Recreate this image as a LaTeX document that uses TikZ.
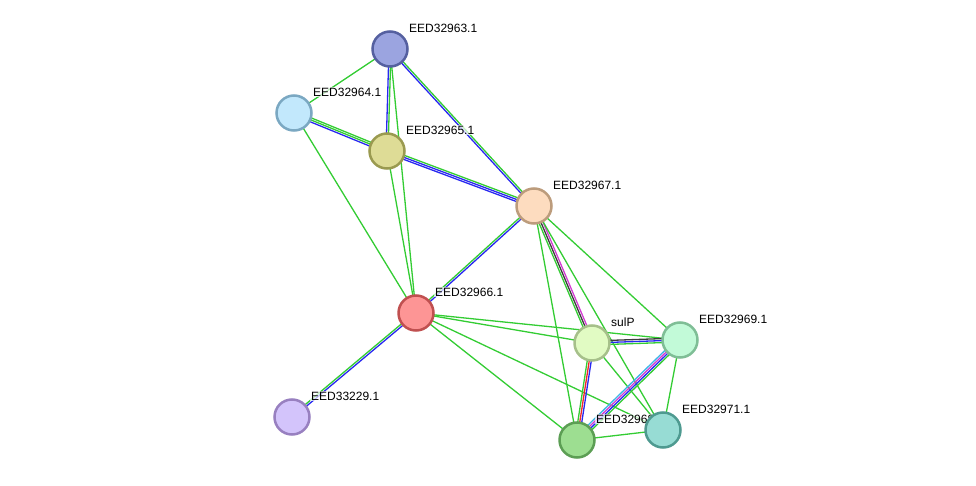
\documentclass[tikz,border=0pt]{standalone}
\usepackage{fontspec}
\setmainfont{Liberation Sans}
\usetikzlibrary{calc}
\definecolor{eg}{RGB}{51,204,51}
\definecolor{eb}{RGB}{40,40,240}
\definecolor{em}{RGB}{210,60,210}
\definecolor{ek}{RGB}{60,60,60}
\definecolor{er}{RGB}{240,40,40}
\definecolor{ec}{RGB}{60,180,230}
\definecolor{f63}{RGB}{155,164,224}\definecolor{d63}{RGB}{85,96,160}
\definecolor{f64}{RGB}{194,232,252}\definecolor{d64}{RGB}{123,168,194}
\definecolor{f65}{RGB}{222,220,150}\definecolor{d65}{RGB}{154,154,80}
\definecolor{f67}{RGB}{253,220,191}\definecolor{d67}{RGB}{188,156,124}
\definecolor{f66}{RGB}{253,149,149}\definecolor{d66}{RGB}{192,80,80}
\definecolor{f29}{RGB}{211,196,251}\definecolor{d29}{RGB}{152,128,192}
\definecolor{fsu}{RGB}{225,251,195}\definecolor{dsu}{RGB}{166,192,138}
\definecolor{f69}{RGB}{194,250,216}\definecolor{d69}{RGB}{127,190,150}
\definecolor{f68}{RGB}{157,222,145}\definecolor{d68}{RGB}{92,158,84}
\definecolor{f71}{RGB}{151,220,212}\definecolor{d71}{RGB}{78,154,144}
\tikzset{
  prot/.style={circle,minimum size=35pt,inner sep=0pt,line width=2.5pt},
  lbl/.style={anchor=west,font=\fontsize{12}{14}\selectfont,inner sep=1pt,fill=white,fill opacity=0.7,text opacity=1},
  edgeline/.style={line width=1.3pt}
}
\newcommand\sedge[3]{\foreach \c/\o in {#3}{\draw[edgeline,\c] ($(#1)!\o pt!90:(#2)$) -- ($(#2)!\o pt!-90:(#1)$);}}
\newcommand\prot[4]{\node[prot,fill=#2,draw=#3] (#1n) at (#1) {};\node[lbl] (#1l) at ($(#1)+(18,-21)$) {#4};}
\begin{document}
\begin{tikzpicture}[x=1pt,y=-1pt]
\useasboundingbox (0,0) rectangle (976,486);
\coordinate (a63) at (390,49);
\coordinate (a64) at (294,113);
\coordinate (a65) at (387,151);
\coordinate (a67) at (534,206);
\coordinate (a66) at (416,313);
\coordinate (a29) at (292,417);
\coordinate (sul) at (592,343);
\coordinate (a69) at (680,340);
\coordinate (a68) at (577,440);
\coordinate (a71) at (663,430);
% edges
\sedge{a63}{a64}{eg/0}
\sedge{a63}{a65}{eb/-1,eg/1}
\sedge{a63}{a66}{eg/0}
\sedge{a63}{a67}{eb/-1,eg/1}
\sedge{a64}{a65}{eb/-2,eg/0,eg/2}
\sedge{a64}{a66}{eg/0}
\sedge{a65}{a67}{eb/-2,eb/0,eg/2}
\sedge{a65}{a66}{eg/0}
\sedge{a67}{a66}{eg/-1,eb/1}
\sedge{a66}{a29}{eg/-1,eb/1}
\sedge{a66}{sul}{eg/0}
\sedge{a66}{a69}{eg/0}
\sedge{a66}{a71}{eg/0}
\sedge{a66}{a68}{eg/0}
\sedge{a67}{sul}{eg/-2,ek/0,em/2}
\sedge{a67}{a68}{eg/0}
\sedge{a67}{a69}{eg/0}
\sedge{a67}{a71}{eg/0}
\sedge{sul}{a69}{eg/-2,eb/0,ek/2}
\sedge{sul}{a68}{eg/-2,er/0,eb/2}
\sedge{sul}{a71}{eg/0}
\sedge{a69}{a68}{eg/3,eb/1,em/-1,ec/-3}
\sedge{a69}{a71}{eg/0}
\sedge{a68}{a71}{eg/0}
% nodes
\prot{a63}{f63}{d63}{EED32963.1}
\prot{a64}{f64}{d64}{EED32964.1}
\prot{a65}{f65}{d65}{EED32965.1}
\prot{a67}{f67}{d67}{EED32967.1}
\prot{a66}{f66}{d66}{EED32966.1}
\prot{a29}{f29}{d29}{EED33229.1}
\prot{sul}{fsu}{dsu}{sulP}
\prot{a69}{f69}{d69}{EED32969.1}
\prot{a68}{f68}{d68}{EED32968.1}
\prot{a71}{f71}{d71}{EED32971.1}
\end{tikzpicture}
\end{document}
